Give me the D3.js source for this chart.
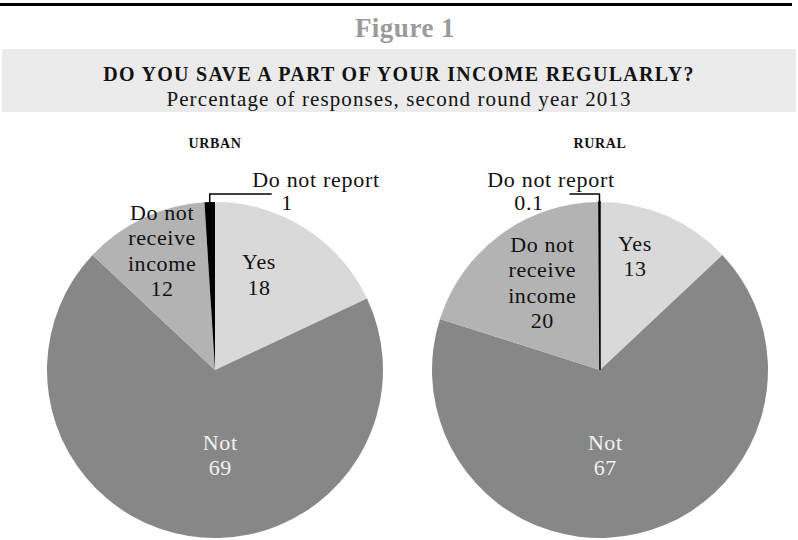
<!DOCTYPE html>
<html lang="en">
<head>
  <meta charset="utf-8">
  <title>Do you save a part of your income regularly?</title>
  <script src="https://d3js.org/d3.v7.min.js"></script>
  <style>
    body { margin: 0; background: #fff; }
    text { font-family: "Liberation Serif", "DejaVu Serif", serif; }
  </style>
</head>
<body>
  <div id="container"></div>
  <script>
    var w = 798, h = 540;

    // data
    var categories = ["Yes", "Not", "Do not receive income", "Do not report"];
    var urbanValues = [18, 69, 12, 1];
    var ruralValues = [13, 67, 20, 0.1];
    var panels = ["URBAN", "RURAL"];

    var colors = d3.scaleOrdinal()
      .domain(categories)
      .range(["#d9d9d9", "#878787", "#b3b3b3", "#000000"]);

    var svg = d3.select("#container").append("svg")
      .attr("width", w).attr("height", h);

    // header
    svg.append("rect").attr("x", 0).attr("y", 3).attr("width", 792).attr("height", 3).attr("fill", "#000");
    svg.append("text").attr("x", 405).attr("y", 37).attr("text-anchor", "middle")
      .attr("font-size", 27).attr("font-weight", "bold").attr("letter-spacing", 0.5)
      .attr("fill", "#9a9a9a").text("Figure 1");
    svg.append("rect").attr("x", 2).attr("y", 49).attr("width", 794).attr("height", 63).attr("fill", "#ebebeb");
    svg.append("text").attr("x", 399).attr("y", 81).attr("text-anchor", "middle")
      .attr("font-size", 20).attr("font-weight", "bold").attr("letter-spacing", 1.3)
      .attr("fill", "#111").text("DO YOU SAVE A PART OF YOUR INCOME REGULARLY?");
    svg.append("text").attr("x", 399).attr("y", 106).attr("text-anchor", "middle")
      .attr("font-size", 21).attr("letter-spacing", 1.1)
      .attr("fill", "#111").text("Percentage of responses, second round year 2013");

    var r = 168;
    var pie = d3.pie().sort(null).value(function(d) { return d.value; });
    var arc = d3.arc().innerRadius(0).outerRadius(r);
    var labelArc = d3.arc().innerRadius(r * 0.6).outerRadius(r * 0.6);

    // small nudges so labels sit where the original put them
    var nudge = {
      URBAN: { "Yes": [-10, -10], "Not": [21, -14], "Do not receive income": [-10, -28] },
      RURAL: { "Yes": [-5, -21], "Not": [-17, -13], "Do not receive income": [2, -6] }
    };

    function labelLines(d) {
      if (d.data.name === "Do not receive income") return ["Do not", "receive", "income", d.data.value];
      return [d.data.name, d.data.value];
    }

    function drawPie(name, values, cx) {
      var g = svg.append("g").attr("transform", "translate(" + cx + ",370)");
      var data = categories.map(function(c, i) { return { name: c, value: values[i] }; });
      var arcs = pie(data);

      svg.append("text").attr("x", cx).attr("y", 148).attr("text-anchor", "middle")
        .attr("font-size", 14).attr("font-weight", "bold").attr("letter-spacing", 0.6)
        .attr("fill", "#111").text(name);

      g.selectAll("path.slice").data(arcs).enter().append("path")
        .attr("class", "slice")
        .attr("d", arc)
        .attr("fill", function(d) { return colors(d.data.name); })
        .attr("stroke", function(d) { return d.value < 0.5 ? "#000" : "none"; })
        .attr("stroke-width", 1.5);

      // inside labels
      arcs.forEach(function(d) {
        if (d.data.name === "Do not report") return;
        var c = labelArc.centroid(d);
        var n = nudge[name][d.data.name];
        var lines = labelLines(d);
        var lh = 25.5;
        var t = g.append("text")
          .attr("text-anchor", "middle")
          .attr("font-size", 22)
          .attr("letter-spacing", 0.6)
          .attr("fill", d.data.name === "Not" ? "#f2f2f2" : "#111");
        lines.forEach(function(s, i) {
          t.append("tspan")
            .attr("x", c[0] + n[0])
            .attr("y", c[1] + n[1] + (i - (lines.length - 1) / 2) * lh + 7)
            .text(s);
        });
      });

      // leader for the tiny slice
      var tiny = arcs[3];
      var mid = (tiny.startAngle + tiny.endAngle) / 2;
      var px = r * Math.sin(mid), py = -r * Math.cos(mid);
      var right = name === "URBAN";
      var ex = right ? px + 62 : px - 30;
      g.append("path")
        .attr("d", "M" + px + "," + (py + 1) + "V" + (py - 8) + "H" + ex)
        .attr("fill", "none").attr("stroke", "#000").attr("stroke-width", 1.5);
      var lx = right ? 101 : -49;
      var t = g.append("text").attr("text-anchor", "middle").attr("font-size", 22)
        .attr("letter-spacing", 0.7).attr("fill", "#111");
      t.append("tspan").attr("x", lx).attr("y", -183).text(tiny.data.name);
      t.append("tspan").attr("x", right ? 72 : -71).attr("y", -160).text(tiny.data.value);
    }

    drawPie(panels[0], urbanValues, 215);
    drawPie(panels[1], ruralValues, 600);
  </script>
</body>
</html>
